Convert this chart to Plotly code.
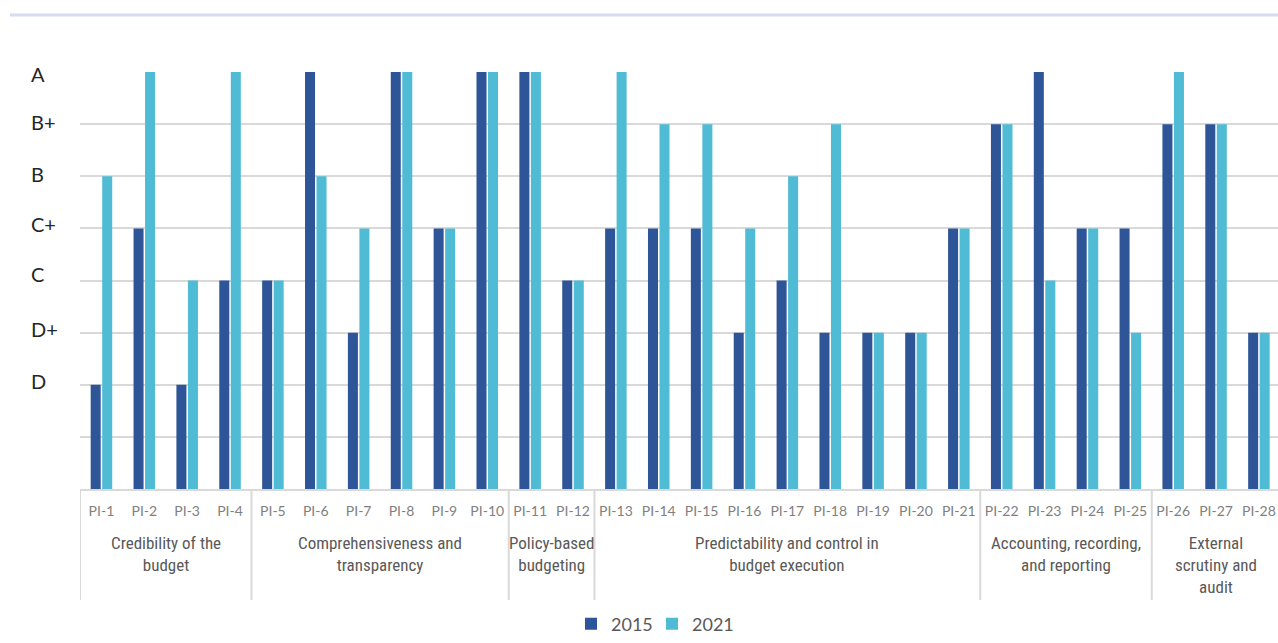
import plotly.graph_objects as go

# PEFA indicator scores (numeric scale: D=2 ... A=8)
indicators = [f"PI-{i}" for i in range(1, 29)]
score_2015 = [2, 5, 2, 4, 4, 8, 3, 8, 5, 8, 8, 4, 5, 5, 5, 3, 4, 3, 3, 3, 5, 7, 8, 5, 5, 7, 7, 3]
score_2021 = [6, 8, 4, 8, 4, 6, 5, 8, 5, 8, 8, 4, 8, 7, 7, 5, 6, 7, 3, 3, 5, 7, 4, 5, 3, 8, 7, 3]

grade_values = [8, 7, 6, 5, 4, 3, 2]
grade_labels = ["A", "B+", "B", "C+", "C", "D+", "D"]
grade_shift = [-2, 2, 2, 4, 7, 4, 4]

# Pillars: (label, first indicator index, last indicator index)
pillars = [
    ("Credibility of the<br>budget", 0, 3),
    ("Comprehensiveness and<br>transparency", 4, 9),
    ("Policy-based<br>budgeting", 10, 11),
    ("Predictability and control in<br>budget execution", 12, 20),
    ("Accounting, recording,<br>and reporting", 21, 24),
    ("External<br>scrutiny and<br>audit", 25, 27),
]

DARK = "#2E5597"
LIGHT = "#4FBBD4"
GRID = "#D9D9D9"

fig = go.Figure()
fig.add_trace(go.Bar(x=indicators, y=score_2015, name="2015",
                     marker=dict(color=DARK, line=dict(width=0))))
fig.add_trace(go.Bar(x=indicators, y=score_2021, name="2021",
                     marker=dict(color=LIGHT, line=dict(width=0))))

W, H = 1278, 643
plot_top, plot_bottom = 72, 489
plot_h = plot_bottom - plot_top

def py(pixel_y):
    return (plot_bottom - pixel_y) / plot_h

# Grade labels on the left
annotations = []
for v, lab, sh in zip(grade_values, grade_labels, grade_shift):
    annotations.append(dict(x=0, xref="paper", xshift=-51, xanchor="left",
                            y=v, yref="y", yanchor="middle", yshift=sh,
                            text=lab, showarrow=False,
                            font=dict(family="Lato", size=20, color="#262626")))

# Pillar labels and dividers under the axis
shapes = []
for label, a, b in pillars:
    annotations.append(dict(x=(a + b) / 2, xref="x", y=py(531), yref="paper",
                            xanchor="center", yanchor="top", text=label,
                            showarrow=False, align="center",
                            font=dict(family="Roboto Condensed", size=17,
                                      color="#595959")))
    shapes.append(dict(type="line", xref="x", yref="paper", x0=a - 0.5, x1=a - 0.5,
                       y0=0, y1=py(600), line=dict(color=GRID, width=2)))

# Thin accent rule across the top
shapes.append(dict(type="line", xref="paper", yref="paper",
                   x0=(10 - 80) / (W - 80), x1=1.05, y0=py(15), y1=py(15),
                   line=dict(color="#D5DCF0", width=3)))

fig.update_layout(
    width=W, height=H,
    margin=dict(l=80, r=0, t=plot_top, b=H - plot_bottom, pad=0),
    paper_bgcolor="white", plot_bgcolor="white",
    barmode="group", bargap=0.463, bargroupgap=0.13,
    showlegend=True,
    legend=dict(orientation="h", x=(571 - 80) / (W - 80), xanchor="left",
                y=py(624), yanchor="middle",
                font=dict(family="Lato", size=18, color="#595959"),
                itemwidth=30, entrywidth=36, entrywidthmode="pixels",
                traceorder="normal"),
    annotations=annotations,
    shapes=shapes,
)
fig.update_xaxes(range=[-0.5, 27.445], showline=True, linecolor=GRID, linewidth=2,
                 ticks="outside", ticklen=8, tickcolor="rgba(0,0,0,0)",
                 tickfont=dict(family="Lato", size=14, color="#7F7F7F"),
                 showgrid=False, fixedrange=True)
fig.update_yaxes(range=[0, 8], tickvals=[1, 2, 3, 4, 5, 6, 7, 8], showticklabels=False,
                 showgrid=True, gridcolor=GRID, gridwidth=1.5, zeroline=False,
                 fixedrange=True)

fig.write_html("out.html", config={"displayModeBar": False})
